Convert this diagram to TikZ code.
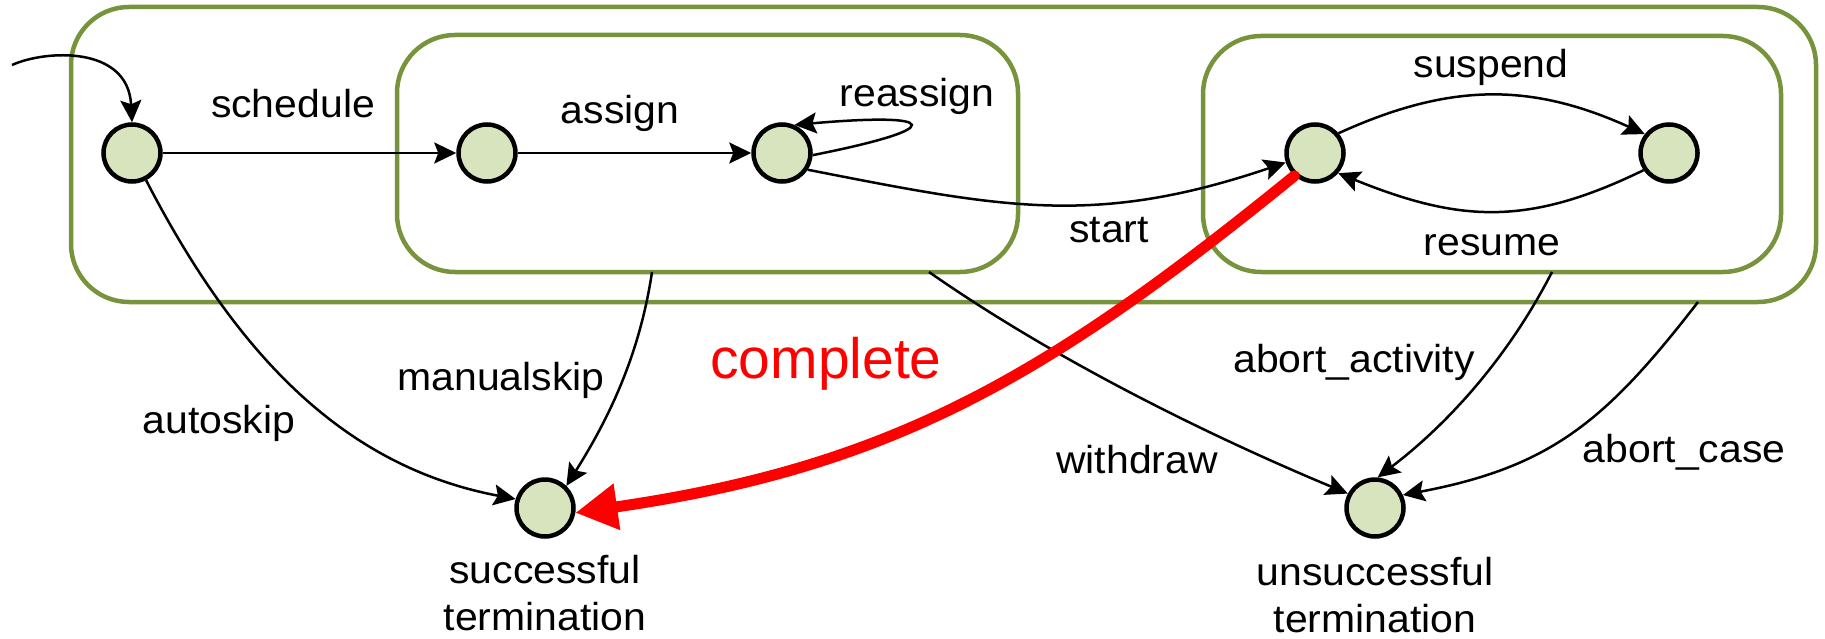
\documentclass[tikz,border=0pt]{standalone}
\usepackage{fontspec}
\setmainfont{Liberation Sans}[FakeStretch=1.05]
\newfontfamily\bigfont{Liberation Sans}
\usetikzlibrary{arrows.meta,calc}
\definecolor{boxgreen}{HTML}{77933C}
\definecolor{statefill}{HTML}{D7E4BD}
\begin{document}
\begin{tikzpicture}[x=1pt,y=-1pt,
  container/.style={draw=boxgreen, line width=4.5pt, rounded corners=58pt, inner sep=0pt, outer sep=0pt},
  state/.style={circle, draw=black, line width=4.5pt, fill=statefill, minimum size=57pt, inner sep=0pt},
  trans/.style={draw=black, line width=2.5pt, -{Stealth[length=22pt,width=21pt,inset=4pt]}},
  lbl/.style={font=\fontsize{39}{46}\selectfont, inner sep=0pt, anchor=base},
  twoline/.style={font=\fontsize{39}{47}\selectfont, inner sep=0pt, anchor=north, align=center},
  redtrans/.style={draw=red, line width=11pt, line cap=round, -{Triangle[length=42pt,width=44pt]}}
]
\useasboundingbox (0,0) rectangle (1825,639);

% containers
\node[container, minimum width=1745pt, minimum height=295pt] (outer) at (943.5,154.5) {};
\node[container, minimum width=621pt, minimum height=237pt] (box1) at (707.5,153.5) {};
\node[container, minimum width=578pt, minimum height=236pt] (box2) at (1492,154) {};

% states
\node[state] (n0) at (132,153) {};
\node[state] (n1) at (487,153) {};
\node[state] (n2) at (782,153) {};
\node[state] (n3) at (1315,153) {};
\node[state] (n4) at (1669,153) {};
\node[state] (succ) at (545,508) {};
\node[state] (unsucc) at (1375,508) {};

% transitions
\coordinate (entry) at (12,65);
\draw[trans] (entry) .. controls (45,50) and (128,45) .. (n0.north);
\draw[trans] (n0) -- (n1);
\draw[trans] (n1) -- (n2);
\draw[trans] (n2.-4) .. controls (950,128) and (940,112) .. (n2.66);
\draw[trans] (n2.-33) .. controls (1003,208) and (1095,227) .. (n3.198);
\draw[trans] (n3.40) .. controls (1451,82) and (1532,83) .. (n4.142);
\draw[trans] (n4.214) .. controls (1527,227) and (1459,222) .. (n3.-41);
\draw[trans] (n0) .. controls (238,358) and (346,467) .. (succ.163);
\draw[trans] ([xshift=-55.5pt]box1.south) .. controls (640,352) and (611,415) .. (succ.46);
\draw[trans] ([xshift=221.5pt]box1.south) .. controls (1052,358) and (1205,434) .. (unsucc.152);
\draw[trans] ([xshift=60pt]box2.south) .. controls (1511,352) and (1453,420) .. (unsucc.85);
\draw[trans] ([xshift=754.5pt]outer.south) .. controls (1606,421) and (1551,467) .. (unsucc.25);
\draw[redtrans] (n3.-132) .. controls (1047,377) and (892,467) .. (succ.-9);

% labels
\node[lbl] (lschedule) at (293,118) {schedule};
\node[lbl] (lassign) at (620,124) {assign};
\node[lbl] (lreassign) at (917,107) {reassign};
\node[lbl] (lstart) at (1109,242) {start};
\node[lbl] (lsuspend) at (1491,78) {suspend};
\node[lbl] (lresume) at (1492,255) {resume};
\node[lbl, font=\bigfont\fontsize{57}{64}\selectfont, text=red] (lcomplete) at (826,378) {complete};
\node[lbl] (lmanual) at (501,390) {manualskip};
\node[lbl] (lauto) at (219,433) {autoskip};
\node[lbl] (labortact) at (1354,372) {abort\_activity};
\node[lbl] (lwithdraw) at (1137,473) {withdraw};
\node[lbl] (labortcase) at (1684,462) {abort\_case};
\node[twoline] (lsucc) at (545,555) {successful\\termination};
\node[twoline] (lunsucc) at (1375,557) {unsuccessful\\termination};
\end{tikzpicture}
\end{document}
